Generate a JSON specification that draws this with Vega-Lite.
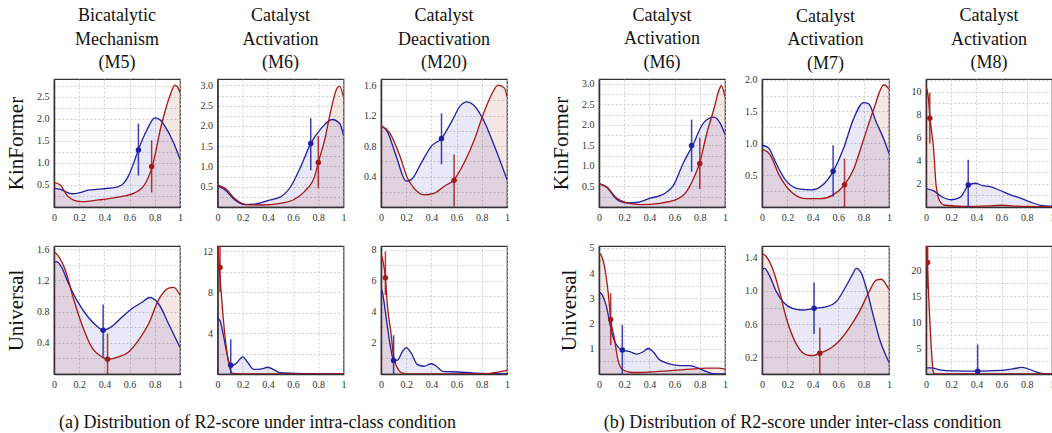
{
"$schema":"https://vega.github.io/schema/vega-lite/v6.json",
"padding":{"left":4,"top":6,"right":0,"bottom":0},
"background":"white",
"datasets":{"d":[
{"k":"c","p":"a1","s":"A","x":0,"y":0.43},{"k":"c","p":"a1","s":"A","x":0.05,"y":0.4},{"k":"c","p":"a1","s":"A","x":0.14,"y":0.3},{"k":"c","p":"a1","s":"A","x":0.2,"y":0.32},{"k":"c","p":"a1","s":"A","x":0.27,"y":0.38},{"k":"c","p":"a1","s":"A","x":0.38,"y":0.41},{"k":"c","p":"a1","s":"A","x":0.5,"y":0.45},{"k":"c","p":"a1","s":"A","x":0.55,"y":0.53},{"k":"c","p":"a1","s":"A","x":0.59,"y":0.7},{"k":"c","p":"a1","s":"A","x":0.63,"y":0.98},{"k":"c","p":"a1","s":"A","x":0.67,"y":1.3},{"k":"c","p":"a1","s":"A","x":0.74,"y":1.76},{"k":"c","p":"a1","s":"A","x":0.8,"y":2.02},{"k":"c","p":"a1","s":"A","x":0.84,"y":1.98},{"k":"c","p":"a1","s":"A","x":0.88,"y":1.83},{"k":"c","p":"a1","s":"A","x":0.95,"y":1.45},{"k":"c","p":"a1","s":"A","x":1,"y":1.08},
{"k":"c","p":"a1","s":"B","x":0,"y":0.56},{"k":"c","p":"a1","s":"B","x":0.05,"y":0.5},{"k":"c","p":"a1","s":"B","x":0.11,"y":0.24},{"k":"c","p":"a1","s":"B","x":0.16,"y":0.15},{"k":"c","p":"a1","s":"B","x":0.22,"y":0.12},{"k":"c","p":"a1","s":"B","x":0.3,"y":0.14},{"k":"c","p":"a1","s":"B","x":0.38,"y":0.17},{"k":"c","p":"a1","s":"B","x":0.46,"y":0.2},{"k":"c","p":"a1","s":"B","x":0.54,"y":0.24},{"k":"c","p":"a1","s":"B","x":0.64,"y":0.32},{"k":"c","p":"a1","s":"B","x":0.72,"y":0.51},{"k":"c","p":"a1","s":"B","x":0.78,"y":0.92},{"k":"c","p":"a1","s":"B","x":0.85,"y":1.83},{"k":"c","p":"a1","s":"B","x":0.92,"y":2.52},{"k":"c","p":"a1","s":"B","x":0.96,"y":2.76},{"k":"c","p":"a1","s":"B","x":0.98,"y":2.72},{"k":"c","p":"a1","s":"B","x":1,"y":2.59},
{"k":"m","p":"a1","s":"A","x":0.67,"y":1.29,"lo":0.71,"hi":1.89},{"k":"m","p":"a1","s":"B","x":0.775,"y":0.92,"lo":0.33,"hi":1.51},

{"k":"c","p":"a2","s":"A","x":0,"y":0.52},{"k":"c","p":"a2","s":"A","x":0.06,"y":0.42},{"k":"c","p":"a2","s":"A","x":0.14,"y":0.17},{"k":"c","p":"a2","s":"A","x":0.22,"y":0.06},{"k":"c","p":"a2","s":"A","x":0.29,"y":0.07},{"k":"c","p":"a2","s":"A","x":0.4,"y":0.16},{"k":"c","p":"a2","s":"A","x":0.5,"y":0.25},{"k":"c","p":"a2","s":"A","x":0.58,"y":0.5},{"k":"c","p":"a2","s":"A","x":0.66,"y":0.99},{"k":"c","p":"a2","s":"A","x":0.74,"y":1.57},{"k":"c","p":"a2","s":"A","x":0.82,"y":1.93},{"k":"c","p":"a2","s":"A","x":0.91,"y":2.16},{"k":"c","p":"a2","s":"A","x":0.97,"y":2.06},{"k":"c","p":"a2","s":"A","x":1,"y":1.77},
{"k":"c","p":"a2","s":"B","x":0,"y":0.54},{"k":"c","p":"a2","s":"B","x":0.06,"y":0.46},{"k":"c","p":"a2","s":"B","x":0.14,"y":0.2},{"k":"c","p":"a2","s":"B","x":0.23,"y":0.06},{"k":"c","p":"a2","s":"B","x":0.35,"y":0.05},{"k":"c","p":"a2","s":"B","x":0.5,"y":0.09},{"k":"c","p":"a2","s":"B","x":0.61,"y":0.19},{"k":"c","p":"a2","s":"B","x":0.69,"y":0.38},{"k":"c","p":"a2","s":"B","x":0.77,"y":0.75},{"k":"c","p":"a2","s":"B","x":0.8,"y":1.1},{"k":"c","p":"a2","s":"B","x":0.85,"y":1.65},{"k":"c","p":"a2","s":"B","x":0.9,"y":2.39},{"k":"c","p":"a2","s":"B","x":0.95,"y":2.94},{"k":"c","p":"a2","s":"B","x":0.97,"y":2.98},{"k":"c","p":"a2","s":"B","x":1,"y":2.71},
{"k":"m","p":"a2","s":"A","x":0.74,"y":1.57,"lo":0.91,"hi":2.19},{"k":"m","p":"a2","s":"B","x":0.8,"y":1.1,"lo":0.46,"hi":1.75},

{"k":"c","p":"a3","s":"A","x":0,"y":1.07},{"k":"c","p":"a3","s":"A","x":0.05,"y":0.99},{"k":"c","p":"a3","s":"A","x":0.12,"y":0.67},{"k":"c","p":"a3","s":"A","x":0.2,"y":0.34},{"k":"c","p":"a3","s":"A","x":0.24,"y":0.36},{"k":"c","p":"a3","s":"A","x":0.32,"y":0.58},{"k":"c","p":"a3","s":"A","x":0.4,"y":0.8},{"k":"c","p":"a3","s":"A","x":0.48,"y":0.9},{"k":"c","p":"a3","s":"A","x":0.56,"y":1.12},{"k":"c","p":"a3","s":"A","x":0.63,"y":1.33},{"k":"c","p":"a3","s":"A","x":0.68,"y":1.38},{"k":"c","p":"a3","s":"A","x":0.74,"y":1.33},{"k":"c","p":"a3","s":"A","x":0.82,"y":1.12},{"k":"c","p":"a3","s":"A","x":0.9,"y":0.8},{"k":"c","p":"a3","s":"A","x":1,"y":0.36},
{"k":"c","p":"a3","s":"B","x":0,"y":1.07},{"k":"c","p":"a3","s":"B","x":0.07,"y":0.97},{"k":"c","p":"a3","s":"B","x":0.15,"y":0.67},{"k":"c","p":"a3","s":"B","x":0.21,"y":0.38},{"k":"c","p":"a3","s":"B","x":0.26,"y":0.25},{"k":"c","p":"a3","s":"B","x":0.34,"y":0.16},{"k":"c","p":"a3","s":"B","x":0.42,"y":0.18},{"k":"c","p":"a3","s":"B","x":0.5,"y":0.27},{"k":"c","p":"a3","s":"B","x":0.58,"y":0.36},{"k":"c","p":"a3","s":"B","x":0.66,"y":0.58},{"k":"c","p":"a3","s":"B","x":0.74,"y":0.88},{"k":"c","p":"a3","s":"B","x":0.81,"y":1.21},{"k":"c","p":"a3","s":"B","x":0.87,"y":1.45},{"k":"c","p":"a3","s":"B","x":0.93,"y":1.6},{"k":"c","p":"a3","s":"B","x":0.98,"y":1.56},{"k":"c","p":"a3","s":"B","x":1,"y":1.45},
{"k":"m","p":"a3","s":"A","x":0.48,"y":0.9,"lo":0.56,"hi":1.23},{"k":"m","p":"a3","s":"B","x":0.58,"y":0.35,"lo":0.01,"hi":0.69},

{"k":"c","p":"a4","s":"A","x":0,"y":1.43},{"k":"c","p":"a4","s":"A","x":0.02,"y":1.44},{"k":"c","p":"a4","s":"A","x":0.06,"y":1.37},{"k":"c","p":"a4","s":"A","x":0.11,"y":1.18},{"k":"c","p":"a4","s":"A","x":0.19,"y":0.92},{"k":"c","p":"a4","s":"A","x":0.27,"y":0.73},{"k":"c","p":"a4","s":"A","x":0.35,"y":0.6},{"k":"c","p":"a4","s":"A","x":0.39,"y":0.56},{"k":"c","p":"a4","s":"A","x":0.46,"y":0.61},{"k":"c","p":"a4","s":"A","x":0.54,"y":0.73},{"k":"c","p":"a4","s":"A","x":0.62,"y":0.84},{"k":"c","p":"a4","s":"A","x":0.7,"y":0.92},{"k":"c","p":"a4","s":"A","x":0.76,"y":0.98},{"k":"c","p":"a4","s":"A","x":0.83,"y":0.9},{"k":"c","p":"a4","s":"A","x":0.91,"y":0.64},{"k":"c","p":"a4","s":"A","x":1,"y":0.34},
{"k":"c","p":"a4","s":"B","x":0,"y":1.57},{"k":"c","p":"a4","s":"B","x":0.03,"y":1.52},{"k":"c","p":"a4","s":"B","x":0.09,"y":1.33},{"k":"c","p":"a4","s":"B","x":0.15,"y":0.99},{"k":"c","p":"a4","s":"B","x":0.22,"y":0.64},{"k":"c","p":"a4","s":"B","x":0.3,"y":0.34},{"k":"c","p":"a4","s":"B","x":0.38,"y":0.22},{"k":"c","p":"a4","s":"B","x":0.43,"y":0.19},{"k":"c","p":"a4","s":"B","x":0.51,"y":0.22},{"k":"c","p":"a4","s":"B","x":0.59,"y":0.28},{"k":"c","p":"a4","s":"B","x":0.67,"y":0.43},{"k":"c","p":"a4","s":"B","x":0.75,"y":0.64},{"k":"c","p":"a4","s":"B","x":0.83,"y":0.95},{"k":"c","p":"a4","s":"B","x":0.91,"y":1.1},{"k":"c","p":"a4","s":"B","x":0.95,"y":1.11},{"k":"c","p":"a4","s":"B","x":1,"y":1.01},
{"k":"m","p":"a4","s":"A","x":0.39,"y":0.56,"lo":0.22,"hi":0.89},{"k":"m","p":"a4","s":"B","x":0.425,"y":0.19,"lo":0,"hi":0.52},

{"k":"c","p":"a5","s":"A","x":0,"y":5.47},{"k":"c","p":"a5","s":"A","x":0.02,"y":5.2},{"k":"c","p":"a5","s":"A","x":0.045,"y":3.9},{"k":"c","p":"a5","s":"A","x":0.07,"y":2.3},{"k":"c","p":"a5","s":"A","x":0.105,"y":0.8},{"k":"c","p":"a5","s":"A","x":0.14,"y":0.96},{"k":"c","p":"a5","s":"A","x":0.19,"y":1.6},{"k":"c","p":"a5","s":"A","x":0.2,"y":1.68},{"k":"c","p":"a5","s":"A","x":0.24,"y":1.12},{"k":"c","p":"a5","s":"A","x":0.29,"y":0.45},{"k":"c","p":"a5","s":"A","x":0.35,"y":0.5},{"k":"c","p":"a5","s":"A","x":0.4,"y":0.66},{"k":"c","p":"a5","s":"A","x":0.45,"y":0.4},{"k":"c","p":"a5","s":"A","x":0.5,"y":0.12},{"k":"c","p":"a5","s":"A","x":0.64,"y":0.05},{"k":"c","p":"a5","s":"A","x":0.8,"y":0.02},{"k":"c","p":"a5","s":"A","x":1,"y":0},
{"k":"c","p":"a5","s":"B","x":0,"y":13.5},{"k":"c","p":"a5","s":"B","x":0.013,"y":10.8},{"k":"c","p":"a5","s":"B","x":0.026,"y":8.5},{"k":"c","p":"a5","s":"B","x":0.045,"y":5.5},{"k":"c","p":"a5","s":"B","x":0.07,"y":2.6},{"k":"c","p":"a5","s":"B","x":0.1,"y":0.47},{"k":"c","p":"a5","s":"B","x":0.12,"y":0.05},{"k":"c","p":"a5","s":"B","x":0.2,"y":0},{"k":"c","p":"a5","s":"B","x":0.5,"y":0},{"k":"c","p":"a5","s":"B","x":0.9,"y":0.02},{"k":"c","p":"a5","s":"B","x":1,"y":0.03},
{"k":"m","p":"a5","s":"A","x":0.105,"y":0.85,"lo":0,"hi":3.4},{"k":"m","p":"a5","s":"B","x":0.02,"y":10.4,"lo":8,"hi":13},

{"k":"c","p":"a6","s":"A","x":0,"y":5.6},{"k":"c","p":"a6","s":"A","x":0.013,"y":5.2},{"k":"c","p":"a6","s":"A","x":0.04,"y":3.7},{"k":"c","p":"a6","s":"A","x":0.074,"y":1.8},{"k":"c","p":"a6","s":"A","x":0.1,"y":0.9},{"k":"c","p":"a6","s":"A","x":0.13,"y":0.9},{"k":"c","p":"a6","s":"A","x":0.17,"y":1.45},{"k":"c","p":"a6","s":"A","x":0.2,"y":1.7},{"k":"c","p":"a6","s":"A","x":0.24,"y":1.34},{"k":"c","p":"a6","s":"A","x":0.29,"y":0.6},{"k":"c","p":"a6","s":"A","x":0.34,"y":0.5},{"k":"c","p":"a6","s":"A","x":0.4,"y":0.66},{"k":"c","p":"a6","s":"A","x":0.44,"y":0.5},{"k":"c","p":"a6","s":"A","x":0.49,"y":0.17},{"k":"c","p":"a6","s":"A","x":0.61,"y":0.13},{"k":"c","p":"a6","s":"A","x":0.74,"y":0.06},{"k":"c","p":"a6","s":"A","x":0.87,"y":0.02},{"k":"c","p":"a6","s":"A","x":1,"y":0},
{"k":"c","p":"a6","s":"B","x":0,"y":7.8},{"k":"c","p":"a6","s":"B","x":0.02,"y":7.1},{"k":"c","p":"a6","s":"B","x":0.035,"y":6.2},{"k":"c","p":"a6","s":"B","x":0.05,"y":4.5},{"k":"c","p":"a6","s":"B","x":0.08,"y":2.6},{"k":"c","p":"a6","s":"B","x":0.1,"y":1.1},{"k":"c","p":"a6","s":"B","x":0.13,"y":0.4},{"k":"c","p":"a6","s":"B","x":0.17,"y":0.06},{"k":"c","p":"a6","s":"B","x":0.25,"y":0},{"k":"c","p":"a6","s":"B","x":0.6,"y":0},{"k":"c","p":"a6","s":"B","x":0.85,"y":0.03},{"k":"c","p":"a6","s":"B","x":0.93,"y":0.12},{"k":"c","p":"a6","s":"B","x":1,"y":0.23},
{"k":"m","p":"a6","s":"A","x":0.1,"y":0.87,"lo":0,"hi":2.5},{"k":"m","p":"a6","s":"B","x":0.035,"y":6.2,"lo":5.1,"hi":7.9},

{"k":"c","p":"b1","s":"A","x":0,"y":0.57},{"k":"c","p":"b1","s":"A","x":0.06,"y":0.48},{"k":"c","p":"b1","s":"A","x":0.14,"y":0.19},{"k":"c","p":"b1","s":"A","x":0.22,"y":0.1},{"k":"c","p":"b1","s":"A","x":0.3,"y":0.11},{"k":"c","p":"b1","s":"A","x":0.4,"y":0.21},{"k":"c","p":"b1","s":"A","x":0.51,"y":0.31},{"k":"c","p":"b1","s":"A","x":0.59,"y":0.52},{"k":"c","p":"b1","s":"A","x":0.67,"y":1.08},{"k":"c","p":"b1","s":"A","x":0.74,"y":1.48},{"k":"c","p":"b1","s":"A","x":0.83,"y":2.05},{"k":"c","p":"b1","s":"A","x":0.91,"y":2.19},{"k":"c","p":"b1","s":"A","x":0.96,"y":2.05},{"k":"c","p":"b1","s":"A","x":1,"y":1.77},
{"k":"c","p":"b1","s":"B","x":0,"y":0.57},{"k":"c","p":"b1","s":"B","x":0.06,"y":0.49},{"k":"c","p":"b1","s":"B","x":0.14,"y":0.22},{"k":"c","p":"b1","s":"B","x":0.22,"y":0.1},{"k":"c","p":"b1","s":"B","x":0.33,"y":0.06},{"k":"c","p":"b1","s":"B","x":0.48,"y":0.09},{"k":"c","p":"b1","s":"B","x":0.62,"y":0.19},{"k":"c","p":"b1","s":"B","x":0.7,"y":0.4},{"k":"c","p":"b1","s":"B","x":0.76,"y":0.76},{"k":"c","p":"b1","s":"B","x":0.8,"y":1.08},{"k":"c","p":"b1","s":"B","x":0.85,"y":1.73},{"k":"c","p":"b1","s":"B","x":0.91,"y":2.37},{"k":"c","p":"b1","s":"B","x":0.96,"y":2.91},{"k":"c","p":"b1","s":"B","x":0.97,"y":2.96},{"k":"c","p":"b1","s":"B","x":1,"y":2.69},
{"k":"m","p":"b1","s":"A","x":0.735,"y":1.5,"lo":0.86,"hi":2.13},{"k":"m","p":"b1","s":"B","x":0.8,"y":1.06,"lo":0.44,"hi":1.69},

{"k":"c","p":"b2","s":"A","x":0,"y":0.97},{"k":"c","p":"b2","s":"A","x":0.05,"y":0.93},{"k":"c","p":"b2","s":"A","x":0.11,"y":0.69},{"k":"c","p":"b2","s":"A","x":0.19,"y":0.41},{"k":"c","p":"b2","s":"A","x":0.3,"y":0.28},{"k":"c","p":"b2","s":"A","x":0.39,"y":0.27},{"k":"c","p":"b2","s":"A","x":0.48,"y":0.35},{"k":"c","p":"b2","s":"A","x":0.56,"y":0.56},{"k":"c","p":"b2","s":"A","x":0.64,"y":0.91},{"k":"c","p":"b2","s":"A","x":0.72,"y":1.38},{"k":"c","p":"b2","s":"A","x":0.8,"y":1.64},{"k":"c","p":"b2","s":"A","x":0.84,"y":1.62},{"k":"c","p":"b2","s":"A","x":0.9,"y":1.33},{"k":"c","p":"b2","s":"A","x":0.96,"y":1.06},{"k":"c","p":"b2","s":"A","x":1,"y":0.84},
{"k":"c","p":"b2","s":"B","x":0,"y":0.91},{"k":"c","p":"b2","s":"B","x":0.06,"y":0.83},{"k":"c","p":"b2","s":"B","x":0.14,"y":0.48},{"k":"c","p":"b2","s":"B","x":0.24,"y":0.22},{"k":"c","p":"b2","s":"B","x":0.35,"y":0.13},{"k":"c","p":"b2","s":"B","x":0.46,"y":0.13},{"k":"c","p":"b2","s":"B","x":0.56,"y":0.19},{"k":"c","p":"b2","s":"B","x":0.65,"y":0.35},{"k":"c","p":"b2","s":"B","x":0.72,"y":0.59},{"k":"c","p":"b2","s":"B","x":0.8,"y":1.06},{"k":"c","p":"b2","s":"B","x":0.88,"y":1.54},{"k":"c","p":"b2","s":"B","x":0.96,"y":1.92},{"k":"c","p":"b2","s":"B","x":1,"y":1.85},
{"k":"m","p":"b2","s":"A","x":0.56,"y":0.56,"lo":0.16,"hi":0.97},{"k":"m","p":"b2","s":"B","x":0.65,"y":0.35,"lo":0,"hi":0.76},

{"k":"c","p":"b3","s":"A","x":0,"y":1.6},{"k":"c","p":"b3","s":"A","x":0.06,"y":1.4},{"k":"c","p":"b3","s":"A","x":0.14,"y":0.8},{"k":"c","p":"b3","s":"A","x":0.2,"y":0.63},{"k":"c","p":"b3","s":"A","x":0.27,"y":0.83},{"k":"c","p":"b3","s":"A","x":0.34,"y":1.9},{"k":"c","p":"b3","s":"A","x":0.39,"y":2.06},{"k":"c","p":"b3","s":"A","x":0.45,"y":1.86},{"k":"c","p":"b3","s":"A","x":0.51,"y":1.77},{"k":"c","p":"b3","s":"A","x":0.59,"y":1.43},{"k":"c","p":"b3","s":"A","x":0.67,"y":1.06},{"k":"c","p":"b3","s":"A","x":0.75,"y":0.77},{"k":"c","p":"b3","s":"A","x":0.83,"y":0.43},{"k":"c","p":"b3","s":"A","x":0.91,"y":0.15},{"k":"c","p":"b3","s":"A","x":1,"y":0.08},
{"k":"c","p":"b3","s":"B","x":0,"y":10.5},{"k":"c","p":"b3","s":"B","x":0.02,"y":9.3},{"k":"c","p":"b3","s":"B","x":0.03,"y":7.9},{"k":"c","p":"b3","s":"B","x":0.06,"y":5.1},{"k":"c","p":"b3","s":"B","x":0.08,"y":1.9},{"k":"c","p":"b3","s":"B","x":0.11,"y":0.5},{"k":"c","p":"b3","s":"B","x":0.15,"y":0.15},{"k":"c","p":"b3","s":"B","x":0.3,"y":0.05},{"k":"c","p":"b3","s":"B","x":0.5,"y":0.1},{"k":"c","p":"b3","s":"B","x":0.6,"y":0.15},{"k":"c","p":"b3","s":"B","x":0.7,"y":0.08},{"k":"c","p":"b3","s":"B","x":1,"y":0.02},
{"k":"m","p":"b3","s":"A","x":0.335,"y":1.9,"lo":0,"hi":4.1},{"k":"m","p":"b3","s":"B","x":0.03,"y":7.7,"lo":5.5,"hi":9.9},

{"k":"c","p":"b4","s":"A","x":0,"y":3.24},{"k":"c","p":"b4","s":"A","x":0.02,"y":3.17},{"k":"c","p":"b4","s":"A","x":0.06,"y":2.65},{"k":"c","p":"b4","s":"A","x":0.1,"y":1.67},{"k":"c","p":"b4","s":"A","x":0.14,"y":1.14},{"k":"c","p":"b4","s":"A","x":0.185,"y":0.95},{"k":"c","p":"b4","s":"A","x":0.25,"y":0.88},{"k":"c","p":"b4","s":"A","x":0.3,"y":0.79},{"k":"c","p":"b4","s":"A","x":0.35,"y":0.88},{"k":"c","p":"b4","s":"A","x":0.39,"y":1.01},{"k":"c","p":"b4","s":"A","x":0.43,"y":0.88},{"k":"c","p":"b4","s":"A","x":0.48,"y":0.56},{"k":"c","p":"b4","s":"A","x":0.56,"y":0.4},{"k":"c","p":"b4","s":"A","x":0.64,"y":0.33},{"k":"c","p":"b4","s":"A","x":0.72,"y":0.33},{"k":"c","p":"b4","s":"A","x":0.79,"y":0.23},{"k":"c","p":"b4","s":"A","x":0.85,"y":0.1},{"k":"c","p":"b4","s":"A","x":0.91,"y":0.01},{"k":"c","p":"b4","s":"A","x":1,"y":0},
{"k":"c","p":"b4","s":"B","x":0,"y":4.8},{"k":"c","p":"b4","s":"B","x":0.02,"y":4.67},{"k":"c","p":"b4","s":"B","x":0.05,"y":4.08},{"k":"c","p":"b4","s":"B","x":0.074,"y":3.17},{"k":"c","p":"b4","s":"B","x":0.093,"y":2.16},{"k":"c","p":"b4","s":"B","x":0.12,"y":1.47},{"k":"c","p":"b4","s":"B","x":0.15,"y":0.56},{"k":"c","p":"b4","s":"B","x":0.19,"y":0.16},{"k":"c","p":"b4","s":"B","x":0.27,"y":0.06},{"k":"c","p":"b4","s":"B","x":0.4,"y":0.08},{"k":"c","p":"b4","s":"B","x":0.59,"y":0.14},{"k":"c","p":"b4","s":"B","x":0.72,"y":0.19},{"k":"c","p":"b4","s":"B","x":0.85,"y":0.23},{"k":"c","p":"b4","s":"B","x":0.95,"y":0.23},{"k":"c","p":"b4","s":"B","x":1,"y":0.19},
{"k":"m","p":"b4","s":"A","x":0.185,"y":0.95,"lo":0,"hi":1.95},{"k":"m","p":"b4","s":"B","x":0.093,"y":2.16,"lo":1.14,"hi":3.2},

{"k":"c","p":"b5","s":"A","x":0,"y":1.26},{"k":"c","p":"b5","s":"A","x":0.02,"y":1.27},{"k":"c","p":"b5","s":"A","x":0.06,"y":1.18},{"k":"c","p":"b5","s":"A","x":0.11,"y":1},{"k":"c","p":"b5","s":"A","x":0.17,"y":0.86},{"k":"c","p":"b5","s":"A","x":0.24,"y":0.79},{"k":"c","p":"b5","s":"A","x":0.32,"y":0.77},{"k":"c","p":"b5","s":"A","x":0.41,"y":0.79},{"k":"c","p":"b5","s":"A","x":0.51,"y":0.81},{"k":"c","p":"b5","s":"A","x":0.59,"y":0.88},{"k":"c","p":"b5","s":"A","x":0.67,"y":1.08},{"k":"c","p":"b5","s":"A","x":0.72,"y":1.22},{"k":"c","p":"b5","s":"A","x":0.74,"y":1.27},{"k":"c","p":"b5","s":"A","x":0.78,"y":1.22},{"k":"c","p":"b5","s":"A","x":0.82,"y":1.04},{"k":"c","p":"b5","s":"A","x":0.88,"y":0.68},{"k":"c","p":"b5","s":"A","x":0.93,"y":0.4},{"k":"c","p":"b5","s":"A","x":0.97,"y":0.24},{"k":"c","p":"b5","s":"A","x":1,"y":0.14},
{"k":"c","p":"b5","s":"B","x":0,"y":1.45},{"k":"c","p":"b5","s":"B","x":0.03,"y":1.42},{"k":"c","p":"b5","s":"B","x":0.09,"y":1.24},{"k":"c","p":"b5","s":"B","x":0.14,"y":0.98},{"k":"c","p":"b5","s":"B","x":0.19,"y":0.68},{"k":"c","p":"b5","s":"B","x":0.27,"y":0.36},{"k":"c","p":"b5","s":"B","x":0.35,"y":0.23},{"k":"c","p":"b5","s":"B","x":0.4,"y":0.22},{"k":"c","p":"b5","s":"B","x":0.455,"y":0.25},{"k":"c","p":"b5","s":"B","x":0.53,"y":0.3},{"k":"c","p":"b5","s":"B","x":0.61,"y":0.4},{"k":"c","p":"b5","s":"B","x":0.69,"y":0.56},{"k":"c","p":"b5","s":"B","x":0.77,"y":0.76},{"k":"c","p":"b5","s":"B","x":0.84,"y":0.98},{"k":"c","p":"b5","s":"B","x":0.9,"y":1.13},{"k":"c","p":"b5","s":"B","x":0.94,"y":1.14},{"k":"c","p":"b5","s":"B","x":0.98,"y":1.07},{"k":"c","p":"b5","s":"B","x":1,"y":1.02},
{"k":"m","p":"b5","s":"A","x":0.41,"y":0.79,"lo":0.48,"hi":1.1},{"k":"m","p":"b5","s":"B","x":0.455,"y":0.25,"lo":0,"hi":0.56},

{"k":"c","p":"b6","s":"A","x":0,"y":1.2},{"k":"c","p":"b6","s":"A","x":0.045,"y":1.2},{"k":"c","p":"b6","s":"A","x":0.11,"y":0.8},{"k":"c","p":"b6","s":"A","x":0.22,"y":0.6},{"k":"c","p":"b6","s":"A","x":0.41,"y":0.55},{"k":"c","p":"b6","s":"A","x":0.59,"y":0.68},{"k":"c","p":"b6","s":"A","x":0.69,"y":1},{"k":"c","p":"b6","s":"A","x":0.76,"y":1.26},{"k":"c","p":"b6","s":"A","x":0.81,"y":1},{"k":"c","p":"b6","s":"A","x":0.88,"y":0.35},{"k":"c","p":"b6","s":"A","x":0.95,"y":0.03},{"k":"c","p":"b6","s":"A","x":1,"y":0},
{"k":"c","p":"b6","s":"B","x":0,"y":28},{"k":"c","p":"b6","s":"B","x":0.01,"y":21.3},{"k":"c","p":"b6","s":"B","x":0.018,"y":16.8},{"k":"c","p":"b6","s":"B","x":0.03,"y":10.4},{"k":"c","p":"b6","s":"B","x":0.045,"y":3.9},{"k":"c","p":"b6","s":"B","x":0.058,"y":0.35},{"k":"c","p":"b6","s":"B","x":0.07,"y":0},{"k":"c","p":"b6","s":"B","x":1,"y":0},
{"k":"m","p":"b6","s":"A","x":0.41,"y":0.55,"lo":0,"hi":5.7},{"k":"m","p":"b6","s":"B","x":0.013,"y":21.5,"lo":16.5,"hi":25}
]},
"data":{"name":"d"},
"spacing":38,
"hconcat":[
{"title":{"text":"(a) Distribution of R2-score under intra-class condition","orient":"bottom","offset":24,"fontSize":18,"anchor":"middle"},
 "columns":3,"spacing":{"row":39,"column":37.5},"bounds":"flush",
 "concat":[
 {"width":126,"height":128,"title":{"text":["Bicatalytic","Mechanism","(M5)"]},"transform":[{"filter":"datum.p=='a1'"}],
  "encoding":{"x":{"field":"x","type":"quantitative","scale":{"domain":[0,1],"nice":false},"axis":{"values":[0,0.2,0.4,0.6,0.8,1],"format":"~g","title":null}},
   "y":{"field":"y","type":"quantitative","stack":null,"scale":{"domain":[0,2.9],"nice":false},"axis":{"values":[0.25,0.5,0.75,1,1.25,1.5,1.75,2,2.25,2.5,2.75],"labelExpr":"indexof([0.5,1,1.5,2,2.5],datum.value)>=0?format(datum.value,'.1f'):''","title":"KinFormer"}},
   "color":{"field":"s","type":"nominal","scale":{"domain":["B","A"],"range":["#a31818","#1f1fa3"]},"legend":null}},
  "layer":[{"transform":[{"filter":"datum.k=='c'"}],"mark":{"type":"area","interpolate":"monotone","fillOpacity":0.1,"clip":true}},
   {"transform":[{"filter":"datum.k=='c'"}],"mark":{"type":"line","interpolate":"monotone","strokeWidth":1.3,"clip":true}},
   {"transform":[{"filter":"datum.k=='m'"}],"mark":{"type":"rule","strokeWidth":1.5,"opacity":0.85,"clip":true},"encoding":{"y":{"field":"lo","type":"quantitative"},"y2":{"field":"hi"}}},
   {"transform":[{"filter":"datum.k=='m'"}],"mark":{"type":"point","filled":true,"size":30,"opacity":1,"clip":true}}]},
 {"width":126,"height":128,"title":{"text":["Catalyst","Activation","(M6)"]},"transform":[{"filter":"datum.p=='a2'"}],
  "encoding":{"x":{"field":"x","type":"quantitative","scale":{"domain":[0,1],"nice":false},"axis":{"values":[0,0.2,0.4,0.6,0.8,1],"format":"~g","title":null}},
   "y":{"field":"y","type":"quantitative","stack":null,"scale":{"domain":[0,3.16],"nice":false},"axis":{"values":[0.25,0.5,0.75,1,1.25,1.5,1.75,2,2.25,2.5,2.75,3],"labelExpr":"indexof([0.5,1,1.5,2,2.5,3],datum.value)>=0?format(datum.value,'.1f'):''","title":null}},
   "color":{"field":"s","type":"nominal","scale":{"domain":["B","A"],"range":["#a31818","#1f1fa3"]},"legend":null}},
  "layer":[{"transform":[{"filter":"datum.k=='c'"}],"mark":{"type":"area","interpolate":"monotone","fillOpacity":0.1,"clip":true}},
   {"transform":[{"filter":"datum.k=='c'"}],"mark":{"type":"line","interpolate":"monotone","strokeWidth":1.3,"clip":true}},
   {"transform":[{"filter":"datum.k=='m'"}],"mark":{"type":"rule","strokeWidth":1.5,"opacity":0.85,"clip":true},"encoding":{"y":{"field":"lo","type":"quantitative"},"y2":{"field":"hi"}}},
   {"transform":[{"filter":"datum.k=='m'"}],"mark":{"type":"point","filled":true,"size":30,"opacity":1,"clip":true}}]},
 {"width":126,"height":128,"title":{"text":["Catalyst","Deactivation","(M20)"]},"transform":[{"filter":"datum.p=='a3'"}],
  "encoding":{"x":{"field":"x","type":"quantitative","scale":{"domain":[0,1],"nice":false},"axis":{"values":[0,0.2,0.4,0.6,0.8,1],"format":"~g","title":null}},
   "y":{"field":"y","type":"quantitative","stack":null,"scale":{"domain":[0,1.68],"nice":false},"axis":{"values":[0.2,0.4,0.6,0.8,1,1.2,1.4,1.6],"labelExpr":"indexof([0.4,0.8,1.2,1.6],datum.value)>=0?format(datum.value,'.1f'):''","title":null}},
   "color":{"field":"s","type":"nominal","scale":{"domain":["B","A"],"range":["#a31818","#1f1fa3"]},"legend":null}},
  "layer":[{"transform":[{"filter":"datum.k=='c'"}],"mark":{"type":"area","interpolate":"monotone","fillOpacity":0.1,"clip":true}},
   {"transform":[{"filter":"datum.k=='c'"}],"mark":{"type":"line","interpolate":"monotone","strokeWidth":1.3,"clip":true}},
   {"transform":[{"filter":"datum.k=='m'"}],"mark":{"type":"rule","strokeWidth":1.5,"opacity":0.85,"clip":true},"encoding":{"y":{"field":"lo","type":"quantitative"},"y2":{"field":"hi"}}},
   {"transform":[{"filter":"datum.k=='m'"}],"mark":{"type":"point","filled":true,"size":30,"opacity":1,"clip":true}}]},
 {"width":126,"height":128,"transform":[{"filter":"datum.p=='a4'"}],
  "encoding":{"x":{"field":"x","type":"quantitative","scale":{"domain":[0,1],"nice":false},"axis":{"values":[0,0.2,0.4,0.6,0.8,1],"format":"~g","title":null}},
   "y":{"field":"y","type":"quantitative","stack":null,"scale":{"domain":[0,1.64],"nice":false},"axis":{"values":[0.2,0.4,0.6,0.8,1,1.2,1.4,1.6],"labelExpr":"indexof([0.4,0.8,1.2,1.6],datum.value)>=0?format(datum.value,'.1f'):''","title":"Universal"}},
   "color":{"field":"s","type":"nominal","scale":{"domain":["B","A"],"range":["#a31818","#1f1fa3"]},"legend":null}},
  "layer":[{"transform":[{"filter":"datum.k=='c'"}],"mark":{"type":"area","interpolate":"monotone","fillOpacity":0.1,"clip":true}},
   {"transform":[{"filter":"datum.k=='c'"}],"mark":{"type":"line","interpolate":"monotone","strokeWidth":1.3,"clip":true}},
   {"transform":[{"filter":"datum.k=='m'"}],"mark":{"type":"rule","strokeWidth":1.5,"opacity":0.85,"clip":true},"encoding":{"y":{"field":"lo","type":"quantitative"},"y2":{"field":"hi"}}},
   {"transform":[{"filter":"datum.k=='m'"}],"mark":{"type":"point","filled":true,"size":30,"opacity":1,"clip":true}}]},
 {"width":126,"height":128,"transform":[{"filter":"datum.p=='a5'"}],
  "encoding":{"x":{"field":"x","type":"quantitative","scale":{"domain":[0,1],"nice":false},"axis":{"values":[0,0.2,0.4,0.6,0.8,1],"format":"~g","title":null}},
   "y":{"field":"y","type":"quantitative","stack":null,"scale":{"domain":[0,12.5],"nice":false},"axis":{"values":[2,4,6,8,10,12],"labelExpr":"indexof([4,8,12],datum.value)>=0?format(datum.value,'d'):''","title":null}},
   "color":{"field":"s","type":"nominal","scale":{"domain":["B","A"],"range":["#a31818","#1f1fa3"]},"legend":null}},
  "layer":[{"transform":[{"filter":"datum.k=='c'"}],"mark":{"type":"area","interpolate":"monotone","fillOpacity":0.1,"clip":true}},
   {"transform":[{"filter":"datum.k=='c'"}],"mark":{"type":"line","interpolate":"monotone","strokeWidth":1.3,"clip":true}},
   {"transform":[{"filter":"datum.k=='m'"}],"mark":{"type":"rule","strokeWidth":1.5,"opacity":0.85,"clip":true},"encoding":{"y":{"field":"lo","type":"quantitative"},"y2":{"field":"hi"}}},
   {"transform":[{"filter":"datum.k=='m'"}],"mark":{"type":"point","filled":true,"size":30,"opacity":1,"clip":true}}]},
 {"width":126,"height":128,"transform":[{"filter":"datum.p=='a6'"}],
  "encoding":{"x":{"field":"x","type":"quantitative","scale":{"domain":[0,1],"nice":false},"axis":{"values":[0,0.2,0.4,0.6,0.8,1],"format":"~g","title":null}},
   "y":{"field":"y","type":"quantitative","stack":null,"scale":{"domain":[0,8.25],"nice":false},"axis":{"values":[1,2,3,4,5,6,7,8],"labelExpr":"indexof([2,4,6,8],datum.value)>=0?format(datum.value,'d'):''","title":null}},
   "color":{"field":"s","type":"nominal","scale":{"domain":["B","A"],"range":["#a31818","#1f1fa3"]},"legend":null}},
  "layer":[{"transform":[{"filter":"datum.k=='c'"}],"mark":{"type":"area","interpolate":"monotone","fillOpacity":0.1,"clip":true}},
   {"transform":[{"filter":"datum.k=='c'"}],"mark":{"type":"line","interpolate":"monotone","strokeWidth":1.3,"clip":true}},
   {"transform":[{"filter":"datum.k=='m'"}],"mark":{"type":"rule","strokeWidth":1.5,"opacity":0.85,"clip":true},"encoding":{"y":{"field":"lo","type":"quantitative"},"y2":{"field":"hi"}}},
   {"transform":[{"filter":"datum.k=='m'"}],"mark":{"type":"point","filled":true,"size":30,"opacity":1,"clip":true}}]}
 ]},
{"title":{"text":"(b) Distribution of R2-score under inter-class condition","orient":"bottom","offset":24,"fontSize":18,"anchor":"middle"},
 "columns":3,"spacing":{"row":39,"column":37},"bounds":"flush",
 "concat":[
 {"width":126,"height":128,"title":{"text":["Catalyst","Activation","(M6)"]},"transform":[{"filter":"datum.p=='b1'"}],
  "encoding":{"x":{"field":"x","type":"quantitative","scale":{"domain":[0,1],"nice":false},"axis":{"values":[0,0.2,0.4,0.6,0.8,1],"format":"~g","title":null}},
   "y":{"field":"y","type":"quantitative","stack":null,"scale":{"domain":[0,3.12],"nice":false},"axis":{"values":[0.25,0.5,0.75,1,1.25,1.5,1.75,2,2.25,2.5,2.75,3],"labelExpr":"indexof([0.5,1,1.5,2,2.5,3],datum.value)>=0?format(datum.value,'.1f'):''","title":"KinFormer"}},
   "color":{"field":"s","type":"nominal","scale":{"domain":["B","A"],"range":["#a31818","#1f1fa3"]},"legend":null}},
  "layer":[{"transform":[{"filter":"datum.k=='c'"}],"mark":{"type":"area","interpolate":"monotone","fillOpacity":0.1,"clip":true}},
   {"transform":[{"filter":"datum.k=='c'"}],"mark":{"type":"line","interpolate":"monotone","strokeWidth":1.3,"clip":true}},
   {"transform":[{"filter":"datum.k=='m'"}],"mark":{"type":"rule","strokeWidth":1.5,"opacity":0.85,"clip":true},"encoding":{"y":{"field":"lo","type":"quantitative"},"y2":{"field":"hi"}}},
   {"transform":[{"filter":"datum.k=='m'"}],"mark":{"type":"point","filled":true,"size":30,"opacity":1,"clip":true}}]},
 {"width":127,"height":128,"title":{"text":["Catalyst","Activation","(M7)"],"offset":2},"transform":[{"filter":"datum.p=='b2'"}],
  "encoding":{"x":{"field":"x","type":"quantitative","scale":{"domain":[0,1],"nice":false},"axis":{"values":[0,0.2,0.4,0.6,0.8,1],"format":"~g","title":null}},
   "y":{"field":"y","type":"quantitative","stack":null,"scale":{"domain":[0,2.01],"nice":false},"axis":{"values":[0.25,0.5,0.75,1,1.25,1.5,1.75,2],"labelExpr":"indexof([0.5,1,1.5,2],datum.value)>=0?format(datum.value,'.1f'):''","title":null}},
   "color":{"field":"s","type":"nominal","scale":{"domain":["B","A"],"range":["#a31818","#1f1fa3"]},"legend":null}},
  "layer":[{"transform":[{"filter":"datum.k=='c'"}],"mark":{"type":"area","interpolate":"monotone","fillOpacity":0.1,"clip":true}},
   {"transform":[{"filter":"datum.k=='c'"}],"mark":{"type":"line","interpolate":"monotone","strokeWidth":1.3,"clip":true}},
   {"transform":[{"filter":"datum.k=='m'"}],"mark":{"type":"rule","strokeWidth":1.5,"opacity":0.85,"clip":true},"encoding":{"y":{"field":"lo","type":"quantitative"},"y2":{"field":"hi"}}},
   {"transform":[{"filter":"datum.k=='m'"}],"mark":{"type":"point","filled":true,"size":30,"opacity":1,"clip":true}}]},
 {"width":126,"height":128,"title":{"text":["Catalyst","Activation","(M8)"]},"transform":[{"filter":"datum.p=='b3'"}],
  "encoding":{"x":{"field":"x","type":"quantitative","scale":{"domain":[0,1],"nice":false},"axis":{"values":[0,0.2,0.4,0.6,0.8,1],"format":"~g","title":null}},
   "y":{"field":"y","type":"quantitative","stack":null,"scale":{"domain":[0,11.1],"nice":false},"axis":{"values":[1,2,3,4,5,6,7,8,9,10,11],"labelExpr":"indexof([2,4,6,8,10],datum.value)>=0?format(datum.value,'d'):''","title":null}},
   "color":{"field":"s","type":"nominal","scale":{"domain":["B","A"],"range":["#a31818","#1f1fa3"]},"legend":null}},
  "layer":[{"transform":[{"filter":"datum.k=='c'"}],"mark":{"type":"area","interpolate":"monotone","fillOpacity":0.1,"clip":true}},
   {"transform":[{"filter":"datum.k=='c'"}],"mark":{"type":"line","interpolate":"monotone","strokeWidth":1.3,"clip":true}},
   {"transform":[{"filter":"datum.k=='m'"}],"mark":{"type":"rule","strokeWidth":1.5,"opacity":0.85,"clip":true},"encoding":{"y":{"field":"lo","type":"quantitative"},"y2":{"field":"hi"}}},
   {"transform":[{"filter":"datum.k=='m'"}],"mark":{"type":"point","filled":true,"size":30,"opacity":1,"clip":true}}]},
 {"width":126,"height":128,"transform":[{"filter":"datum.p=='b4'"}],
  "encoding":{"x":{"field":"x","type":"quantitative","scale":{"domain":[0,1],"nice":false},"axis":{"values":[0,0.2,0.4,0.6,0.8,1],"format":"~g","title":null}},
   "y":{"field":"y","type":"quantitative","stack":null,"scale":{"domain":[0,5.07],"nice":false},"axis":{"values":[0.5,1,1.5,2,2.5,3,3.5,4,4.5,5],"labelExpr":"indexof([1,2,3,4,5],datum.value)>=0?format(datum.value,'d'):''","title":"Universal"}},
   "color":{"field":"s","type":"nominal","scale":{"domain":["B","A"],"range":["#a31818","#1f1fa3"]},"legend":null}},
  "layer":[{"transform":[{"filter":"datum.k=='c'"}],"mark":{"type":"area","interpolate":"monotone","fillOpacity":0.1,"clip":true}},
   {"transform":[{"filter":"datum.k=='c'"}],"mark":{"type":"line","interpolate":"monotone","strokeWidth":1.3,"clip":true}},
   {"transform":[{"filter":"datum.k=='m'"}],"mark":{"type":"rule","strokeWidth":1.5,"opacity":0.85,"clip":true},"encoding":{"y":{"field":"lo","type":"quantitative"},"y2":{"field":"hi"}}},
   {"transform":[{"filter":"datum.k=='m'"}],"mark":{"type":"point","filled":true,"size":30,"opacity":1,"clip":true}}]},
 {"width":127,"height":128,"transform":[{"filter":"datum.p=='b5'"}],
  "encoding":{"x":{"field":"x","type":"quantitative","scale":{"domain":[0,1],"nice":false},"axis":{"values":[0,0.2,0.4,0.6,0.8,1],"format":"~g","title":null}},
   "y":{"field":"y","type":"quantitative","stack":null,"scale":{"domain":[0,1.54],"nice":false},"axis":{"values":[0.2,0.4,0.6,0.8,1,1.2,1.4],"labelExpr":"indexof([0.2,0.6,1,1.4],datum.value)>=0?format(datum.value,'.1f'):''","title":null}},
   "color":{"field":"s","type":"nominal","scale":{"domain":["B","A"],"range":["#a31818","#1f1fa3"]},"legend":null}},
  "layer":[{"transform":[{"filter":"datum.k=='c'"}],"mark":{"type":"area","interpolate":"monotone","fillOpacity":0.1,"clip":true}},
   {"transform":[{"filter":"datum.k=='c'"}],"mark":{"type":"line","interpolate":"monotone","strokeWidth":1.3,"clip":true}},
   {"transform":[{"filter":"datum.k=='m'"}],"mark":{"type":"rule","strokeWidth":1.5,"opacity":0.85,"clip":true},"encoding":{"y":{"field":"lo","type":"quantitative"},"y2":{"field":"hi"}}},
   {"transform":[{"filter":"datum.k=='m'"}],"mark":{"type":"point","filled":true,"size":30,"opacity":1,"clip":true}}]},
 {"width":126,"height":128,"transform":[{"filter":"datum.p=='b6'"}],
  "encoding":{"x":{"field":"x","type":"quantitative","scale":{"domain":[0,1],"nice":false},"axis":{"values":[0,0.2,0.4,0.6,0.8,1],"format":"~g","title":null}},
   "y":{"field":"y","type":"quantitative","stack":null,"scale":{"domain":[0,24.7],"nice":false},"axis":{"values":[2.5,5,7.5,10,12.5,15,17.5,20,22.5],"labelExpr":"indexof([5,10,15,20],datum.value)>=0?format(datum.value,'d'):''","title":null}},
   "color":{"field":"s","type":"nominal","scale":{"domain":["B","A"],"range":["#a31818","#1f1fa3"]},"legend":null}},
  "layer":[{"transform":[{"filter":"datum.k=='c'"}],"mark":{"type":"area","interpolate":"monotone","fillOpacity":0.1,"clip":true}},
   {"transform":[{"filter":"datum.k=='c'"}],"mark":{"type":"line","interpolate":"monotone","strokeWidth":1.3,"clip":true}},
   {"transform":[{"filter":"datum.k=='m'"}],"mark":{"type":"rule","strokeWidth":1.5,"opacity":0.85,"clip":true},"encoding":{"y":{"field":"lo","type":"quantitative"},"y2":{"field":"hi"}}},
   {"transform":[{"filter":"datum.k=='m'"}],"mark":{"type":"point","filled":true,"size":30,"opacity":1,"clip":true}}]}
 ]}
],
"config":{
 "font":"Liberation Serif",
 "view":{"stroke":"#333","strokeWidth":1.2},
 "axis":{"labelFont":"Liberation Serif","labelFontSize":10,"labelColor":"#333","ticks":false,"domainColor":"#333","domainWidth":1.5,"gridColor":"#c4c4c4","gridDash":[2,2],"gridWidth":0.8,"labelPadding":5,"labelFlush":false,"titleFont":"Liberation Serif","titleFontWeight":"normal","titleFontSize":21,"titleColor":"#111","titlePadding":10},
 "title":{"font":"Liberation Serif","fontWeight":"normal","fontSize":18,"lineHeight":23.5,"color":"#111","offset":7,"anchor":"middle"}
}
}
